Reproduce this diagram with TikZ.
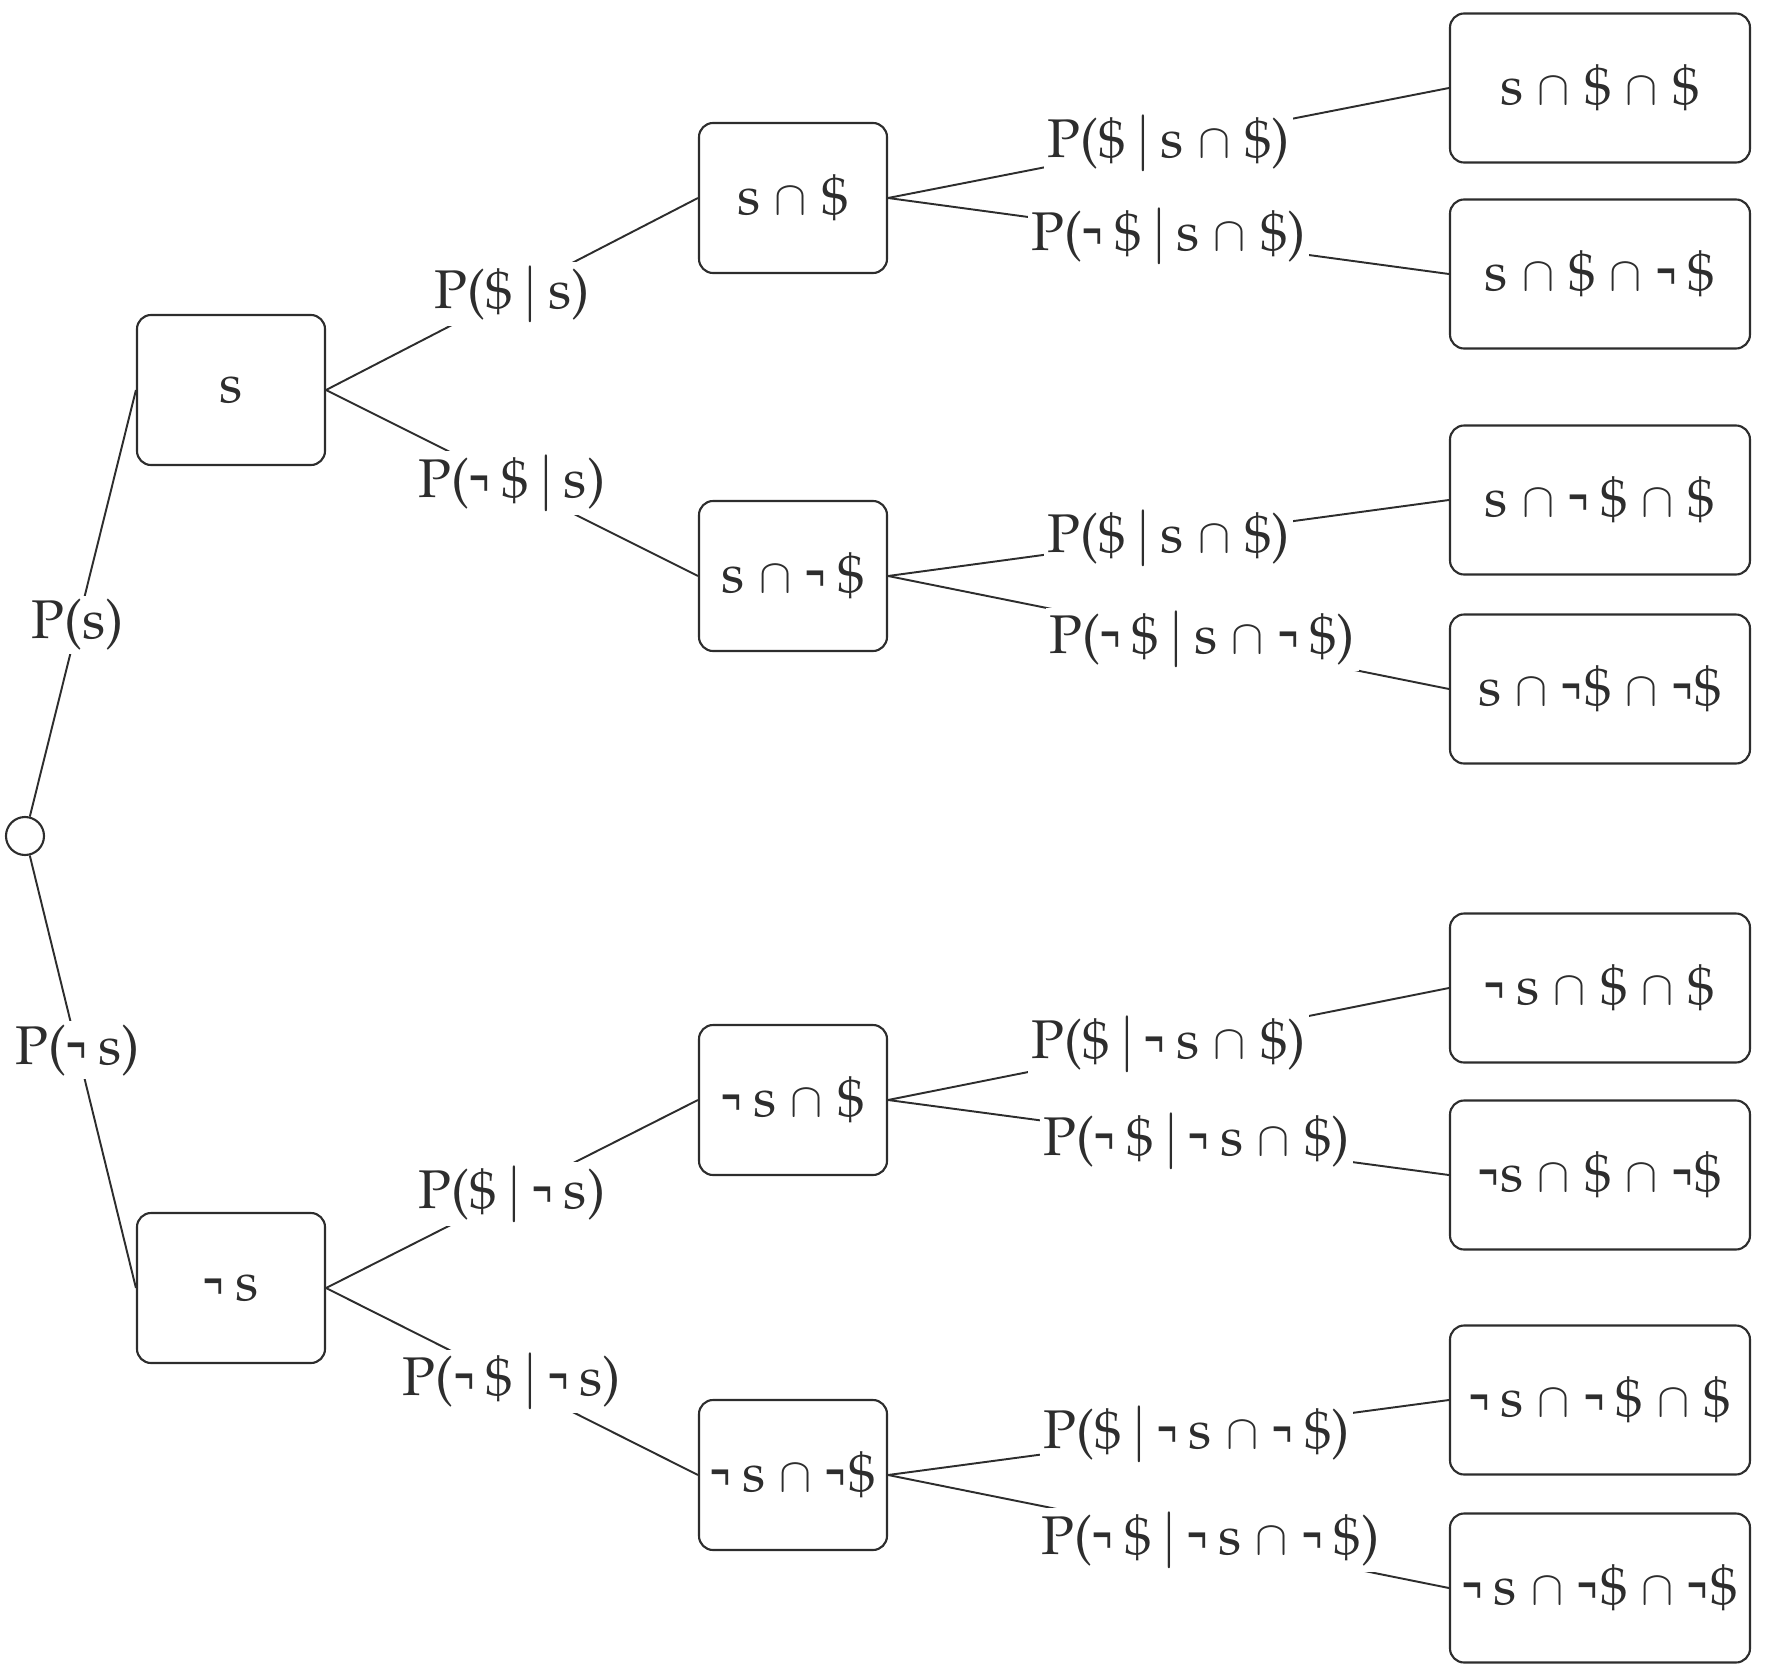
\documentclass[tikz,border=0pt]{standalone}
\usepackage[T1]{fontenc}
\usepackage{textcomp}
\usepackage{mathpazo}
\usepackage{tikz}
\usetikzlibrary{positioning}
\definecolor{treeink}{RGB}{45,45,45}
\newcommand{\treefont}{\fontsize{15.5}{18}\selectfont}
\newcommand{\nt}{\scalebox{0.6}[1]{\textbf{\textlnot}}\kern0.05em}
\newcommand{\capsym}{\scalebox{0.85}{$\cap$}}
\newcommand{\givn}{\,$|$\,}
\tikzset{
  evbox/.style={rectangle, draw=treeink, text=treeink, minimum width=1.88cm,
    minimum height=1.5cm, inner xsep=1pt, rounded corners=4pt, line width=0.6pt, font=\treefont},
  leafbox/.style={evbox, minimum width=3.0cm, minimum height=1.49cm},
  startnode/.style={circle, draw=treeink, minimum size=0.38cm, inner sep=0pt, line width=0.6pt},
  plabel/.style={fill=white, text=treeink, inner sep=1pt, font=\treefont},
  branch/.style={draw=treeink, line width=0.55pt}
}

\begin{document}
\begin{tikzpicture}
  \useasboundingbox (0,0) rectangle (17.66,-16.74);

  % Start of the tree
  \node[startnode] (root) at (0.25,-8.36) {};

  % First split
  \node[evbox] (s)  at (2.31,-3.90)  {s};
  \node[evbox] (ns) at (2.31,-12.88) {\nt\,s};

  % Second split
  \node[evbox] (sd)   at (7.93,-1.98)  {s \capsym{} \$};
  \node[evbox] (snd)  at (7.93,-5.76)  {s \capsym{} \nt\,\$};
  \node[evbox] (nsd)  at (7.93,-11.00) {\nt\,s \capsym{} \$};
  \node[evbox] (nsnd) at (7.93,-14.75) {\nt\,s \capsym{} \nt\$};

  % Outcomes
  \node[leafbox] (sdd)    at (16.00,-0.88)  {s \capsym{} \$ \capsym{} \$};
  \node[leafbox] (sdnd)   at (16.00,-2.74)  {s \capsym{} \$ \capsym{} \nt\,\$};
  \node[leafbox] (sndd)   at (16.00,-5.00)  {s \capsym{} \nt\,\$ \capsym{} \$};
  \node[leafbox] (sndnd)  at (16.00,-6.89)  {s \capsym{} \nt\$ \capsym{} \nt\$};
  \node[leafbox] (nsdd)   at (16.00,-9.88)  {\nt\,s \capsym{} \$ \capsym{} \$};
  \node[leafbox] (nsdnd)  at (16.00,-11.75) {\nt s \capsym{} \$ \capsym{} \nt\$};
  \node[leafbox] (nsndd)  at (16.00,-14.00) {\nt\,s \capsym{} \nt\,\$ \capsym{} \$};
  \node[leafbox] (nsndnd) at (16.00,-15.88) {\nt\,s \capsym{} \nt\$ \capsym{} \nt\$};

  % Branches with probabilities
  \draw[branch] (root) -- node[plabel, pos=0.45] {P(s)} (s.west);
  \draw[branch] (root) -- node[plabel, pos=0.45] {P(\nt\,s)} (ns.west);

  \draw[branch] (s.east) -- node[plabel] {P(\$\givn s)} (sd.west);
  \draw[branch] (s.east) -- node[plabel] {P(\nt\,\$\givn s)} (snd.west);
  \draw[branch] (ns.east) -- node[plabel] {P(\$\givn\nt\,s)} (nsd.west);
  \draw[branch] (ns.east) -- node[plabel] {P(\nt\,\$\givn\nt\,s)} (nsnd.west);

  \draw[branch] (sd.east) -- node[plabel] {P(\$\givn s \capsym{} \$)} (sdd.west);
  \draw[branch] (sd.east) -- node[plabel] {P(\nt\,\$\givn s \capsym{} \$)} (sdnd.west);
  \draw[branch] (snd.east) -- node[plabel] {P(\$\givn s \capsym{} \$)} (sndd.west);
  \draw[branch] (snd.east) -- node[plabel, pos=0.56] {P(\nt\,\$\givn s \capsym{} \nt\,\$)} (sndnd.west);
  \draw[branch] (nsd.east) -- node[plabel] {P(\$\givn\nt\,s \capsym{} \$)} (nsdd.west);
  \draw[branch] (nsd.east) -- node[plabel, pos=0.55] {P(\nt\,\$\givn\nt\,s \capsym{} \$)} (nsdnd.west);
  \draw[branch] (nsnd.east) -- node[plabel, pos=0.55] {P(\$\givn\nt\,s \capsym{} \nt\,\$)} (nsndd.west);
  \draw[branch] (nsnd.east) -- node[plabel, pos=0.575] {P(\nt\,\$\givn\nt\,s \capsym{} \nt\,\$)} (nsndnd.west);
\end{tikzpicture}
\end{document}
